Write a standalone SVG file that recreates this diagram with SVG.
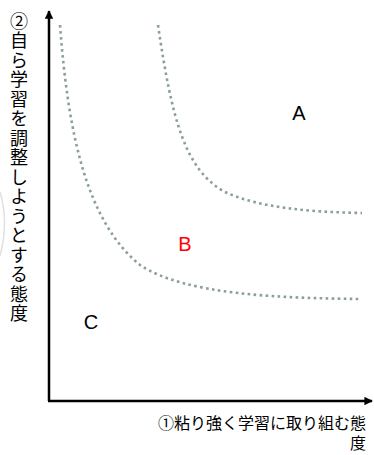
<svg xmlns="http://www.w3.org/2000/svg" width="374" height="455" viewBox="0 0 374 455">
<style>
.axis{stroke:#000;stroke-width:2.5;fill:none}
.curve{stroke:#8A9EA0;stroke-width:2.6;stroke-dasharray:2.6 3.4;fill:none}
.lbl{font-family:"Liberation Sans",Arial,sans-serif;font-size:20px;text-anchor:middle}
.jp{font-family:"Noto Sans CJK JP","Noto Sans CJK SC",sans-serif;fill:#000}
</style>
<defs>
<marker id="arr" viewBox="0 0 10 10" refX="9" refY="5" markerWidth="3.4" markerHeight="3.4" orient="auto" markerUnits="strokeWidth">
<path d="M0,0 L10,5 L0,10 z" fill="#000"/>
</marker>
</defs>
<rect width="374" height="455" fill="#fff"/>
<path d="M0,192 Q9,222 0,256" stroke="#e0e0e0" stroke-width="1.5" fill="none"/>
<g id="connectors">
<path id="y-axis" class="axis" d="M49,401 L49,11" marker-end="url(#arr)"/>
<path id="x-axis" class="axis" d="M48,401 L372,401" marker-end="url(#arr)"/>
<path id="curve-ab" class="curve" d="M158,25 C172,120 185,170 225,192 C260,208 310,212 362,213"/>
<path id="curve-bc" class="curve" d="M60,25 C68,130 85,220 140,265 C185,295 280,298 360,299"/>
</g>
<g id="label-a"><text class="lbl" x="299" y="120" fill="#000">A</text></g>
<g id="label-b"><text class="lbl" x="185" y="251" fill="#FF0000">B</text></g>
<g id="label-c"><text class="lbl" x="91" y="329" fill="#000">C</text></g>
<g id="y-label"><text class="jp" x="19" y="12" font-size="18" letter-spacing="1.5" style="writing-mode:vertical-rl;text-orientation:upright">②自ら学習を調整しようとする態度</text></g>
<g id="x-label">
<text class="jp" x="366" y="429" font-size="16" text-anchor="end">①粘り強く学習に取り組む態</text>
<text class="jp" x="366" y="449" font-size="16" text-anchor="end">度</text>
</g>
</svg>
